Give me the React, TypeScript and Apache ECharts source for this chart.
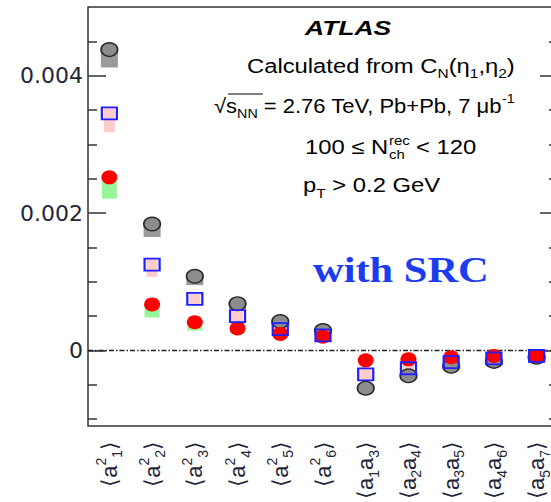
import React, { useEffect, useRef } from 'react';
import * as echarts from 'echarts';

// Category labels (rich markup: sup / sub tokens)
const categories = [
  '⟨a{sup|2}{sub|1}⟩',
  '⟨a{sup|2}{sub|2}⟩',
  '⟨a{sup|2}{sub|3}⟩',
  '⟨a{sup|2}{sub|4}⟩',
  '⟨a{sup|2}{sub|5}⟩',
  '⟨a{sup|2}{sub|6}⟩',
  '⟨a{sub|1}a{sub|3}⟩',
  '⟨a{sub|2}a{sub|4}⟩',
  '⟨a{sub|3}a{sub|5}⟩',
  '⟨a{sub|4}a{sub|6}⟩',
  '⟨a{sub|5}a{sub|7}⟩',
];

// Gray circles and the gray band below them
const grayValues = [0.00438, 0.00184, 0.00108, 0.00068, 0.00042, 0.00029, -0.00055, -0.00037, -0.00023, -0.00016, -0.0001];
const grayBandLow = [0.00412, 0.00165, 0.00095, 0.0006, 0.00036, 0.00025, null, null, null, null, null];

// Open blue squares and the pink band behind them
const blueValues = [0.00345, 0.00125, 0.00075, 0.0005, 0.00031, 0.00022, -0.00035, -0.00026, -0.00017, -0.000115, -0.00008];
const pinkBandHigh = [0.00353, 0.00135, 0.00085, 0.00058, 0.00037, null, -0.00025, -0.00017, -0.0001, null, null];
const pinkBandLow = [0.003175, 0.00107, 0.00066, 0.00042, 0.00027, null, -0.00044, -0.00028, -0.0002, null, null];

// Red filled circles and the green band below them
const redValues = [0.00252, 0.00067, 0.00041, 0.00032, 0.00024, 0.0002, -0.000145, -0.00013, -0.0001, -0.00008, -0.00008];
const greenBandLow = [0.00221, 0.00048, 0.00029, 0.00025, 0.00019, null, null, null, null, null, null];

// Y axis ticks
const majorTicks = [0, 0.002, 0.004];
const minorTicks = [-0.001, -0.0005, 0.0005, 0.001, 0.0015, 0.0025, 0.003, 0.0035, 0.0045];

const Y_MIN = -0.0011;
const Y_MAX = 0.005;

const FRAME = '#333333';
const TEXT = '#1e2638';
const SANS = '"Liberation Sans", Arial, Helvetica, sans-serif';

function bandSeries(
  name: string,
  high: (number | null)[],
  low: (number | null)[],
  width: number,
  color: string
) {
  const data: number[][] = [];
  high.forEach((h, i) => {
    const l = low[i];
    if (h != null && l != null) data.push([i, h, l]);
  });
  return {
    type: 'custom',
    name,
    data,
    z: 1,
    silent: true,
    encode: { x: 0, y: [1, 2] },
    renderItem: (_params: any, api: any) => {
      const p1 = api.coord([api.value(0), api.value(1)]);
      const p2 = api.coord([api.value(0), api.value(2)]);
      return {
        type: 'rect',
        shape: {
          x: p1[0] - width / 2,
          y: Math.min(p1[1], p2[1]),
          width,
          height: Math.abs(p2[1] - p1[1]),
        },
        style: { fill: color },
      };
    },
  };
}

function yAxisDef(position: 'left' | 'right', values: number[], length: number, showLabels: boolean) {
  return {
    type: 'value',
    min: Y_MIN,
    max: Y_MAX,
    position,
    axisLine: { show: false },
    splitLine: { show: false },
    axisTick: {
      show: true,
      inside: true,
      length,
      customValues: values,
      lineStyle: { color: FRAME, width: 1.5 },
    },
    axisLabel: showLabels
      ? {
          show: true,
          customValues: majorTicks,
          margin: 5,
          color: TEXT,
          fontFamily: '"DejaVu Sans", sans-serif',
          fontSize: 22,
          formatter: (v: number) => (v === 0 ? '0' : v.toFixed(3)),
        }
      : { show: false },
  };
}

const subStyle = { fontSize: 14, verticalAlign: 'bottom', lineHeight: 14, fontFamily: SANS, fill: TEXT };
const supStyle = { fontSize: 14, verticalAlign: 'top', lineHeight: 14, fontFamily: SANS, fill: TEXT };

function annotation(x: number, y: number, text: string, extra: any = {}) {
  return {
    type: 'text',
    x,
    y,
    scaleX: extra.scaleX ?? 1.19,
    silent: true,
    style: {
      text,
      fill: extra.fill ?? '#000',
      fontSize: extra.fontSize ?? 20,
      fontFamily: extra.fontFamily ?? SANS,
      fontWeight: extra.fontWeight ?? 'normal',
      fontStyle: extra.fontStyle ?? 'normal',
      lineHeight: 28,
      align: 'left',
      verticalAlign: 'middle',
      textAlign: 'left',
      textVerticalAlign: 'middle',
      rich: {
        sub: { ...subStyle, fontSize: 13, fill: '#000' },
        sup: { ...supStyle, fontSize: 13, fill: '#000' },
      },
    },
  };
}

const option: any = {
  animation: false,
  backgroundColor: '#ffffff',
  grid: {
    left: 88,
    top: 7,
    right: 17,
    bottom: 76,
    show: true,
    borderColor: FRAME,
    borderWidth: 1.5,
    backgroundColor: 'transparent',
  },
  xAxis: {
    type: 'category',
    data: categories,
    boundaryGap: true,
    axisLine: { show: false },
    axisTick: { show: false },
    splitLine: { show: false },
    axisLabel: {
      interval: 0,
      rotate: 90,
      margin: 15,
      color: TEXT,
      fontFamily: SANS,
      fontSize: 22,
      lineHeight: 30,
      rich: {
        sub: subStyle,
        sup: supStyle,
      },
    },
  },
  yAxis: [
    yAxisDef('left', majorTicks, 18, true),
    yAxisDef('left', minorTicks, 9, false),
    yAxisDef('right', majorTicks, 18, false),
    yAxisDef('right', minorTicks, 9, false),
  ],
  series: [
    bandSeries('gray band', grayValues, grayBandLow, 17, '#9a9a9a'),
    bandSeries('pink band', pinkBandHigh, pinkBandLow, 11, '#ffcccc'),
    bandSeries('green band', redValues, greenBandLow, 15, '#99f599'),
    {
      type: 'scatter',
      name: 'gray',
      data: grayValues,
      symbol: 'circle',
      symbolSize: [16.5, 13.5],
      z: 3,
      itemStyle: { color: '#8c8c8c', borderColor: '#2a2a2a', borderWidth: 1.6, opacity: 1 },
      markLine: {
        silent: true,
        symbol: ['none', 'none'],
        data: [{ yAxis: 0 }],
        label: { show: false },
        lineStyle: { color: '#222', width: 1.3, type: [5, 2, 1.5, 2] },
        z: 2,
      },
    },
    {
      type: 'scatter',
      name: 'red',
      data: redValues,
      symbol: 'circle',
      symbolSize: [16, 14],
      z: 4,
      itemStyle: { color: '#ff0000', opacity: 1 },
    },
    {
      type: 'scatter',
      name: 'blue',
      data: blueValues,
      symbol: 'rect',
      symbolSize: [15, 12],
      z: 5,
      itemStyle: { color: 'rgba(0,0,0,0)', borderColor: '#1f1fff', borderWidth: 2, opacity: 1 },
    },
  ],
  graphic: [
    annotation(305, 27.5, 'ATLAS', { fontWeight: 'bold', fontStyle: 'italic', fontSize: 21, scaleX: 1.26 }),
    annotation(247, 66, 'Calculated from C{sub|N}(η{sub|1},η{sub|2})'),
    annotation(214, 106, '√s{sub|NN} = 2.76 TeV, Pb+Pb, 7 μb{sup|-1}', { scaleX: 1.1 }),
    {
      type: 'line',
      silent: true,
      shape: { x1: 228, y1: 94, x2: 263, y2: 94 },
      style: { stroke: '#000', lineWidth: 1.2 },
    },
    annotation(305, 147, '100 ≤ N'),
    // stacked super/subscript of N
    annotation(389, 140, 'rec', { fontSize: 13, scaleX: 1.15 }),
    annotation(389, 154, 'ch', { fontSize: 13, scaleX: 1.15 }),
    annotation(416, 147, '< 120'),
    annotation(303, 185.5, 'p{sub|T} > 0.2 GeV'),
    annotation(313, 270, 'with SRC', {
      fontFamily: '"Liberation Serif", "Times New Roman", serif',
      fontWeight: 'bold',
      fontSize: 36,
      scaleX: 1.18,
      fill: '#1c3cf0',
    }),
  ],
};

export default function App() {
  const ref = useRef<HTMLDivElement>(null);
  useEffect(() => {
    if (!ref.current) return;
    const chart = echarts.init(ref.current, null, { renderer: 'svg' });
    chart.setOption(option);
    return () => chart.dispose();
  }, []);
  return (
    <div
      style={{
        position: 'fixed',
        left: 0,
        top: 0,
        width: 551,
        height: 502,
        overflow: 'hidden',
        background: '#fff',
      }}
    >
      <div ref={ref} style={{ width: 575, height: 502 }} />
    </div>
  );
}
